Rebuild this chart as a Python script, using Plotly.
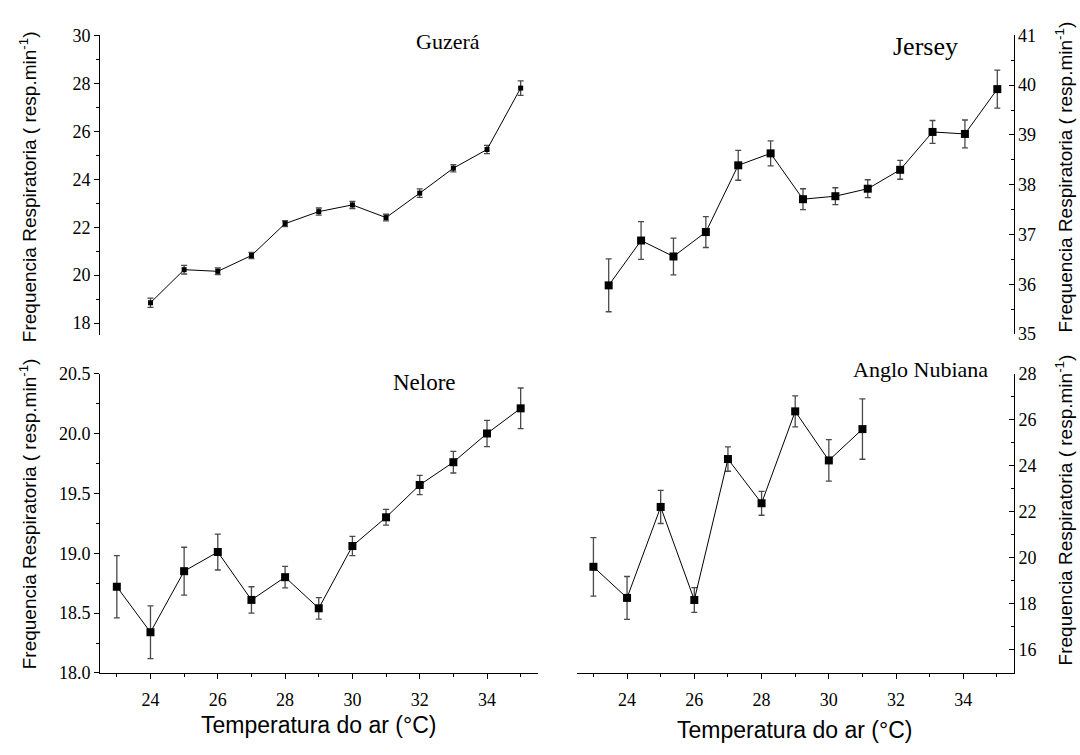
import plotly.graph_objects as go

# ---------------- data ----------------
guzera_temp = [24, 25, 26, 27, 28, 29, 30, 31, 32, 33, 34, 35]
guzera_fr = [18.85, 20.23, 20.16, 20.82, 22.15, 22.65, 22.93, 22.40, 23.42, 24.46, 25.24, 27.80]
guzera_err = [0.19, 0.18, 0.14, 0.13, 0.12, 0.15, 0.15, 0.14, 0.18, 0.15, 0.17, 0.30]

jersey_temp = [23, 24, 25, 26, 27, 28, 29, 30, 31, 32, 33, 34, 35]
jersey_fr = [35.98, 36.88, 36.56, 37.05, 38.39, 38.63, 37.71, 37.77, 37.92, 38.30, 39.06, 39.02, 39.92]
jersey_err = [0.53, 0.38, 0.37, 0.31, 0.30, 0.25, 0.21, 0.17, 0.18, 0.19, 0.23, 0.28, 0.38]

nelore_temp = [23, 24, 25, 26, 27, 28, 29, 30, 31, 32, 33, 34, 35]
nelore_fr = [18.72, 18.34, 18.85, 19.01, 18.61, 18.80, 18.54, 19.06, 19.30, 19.57, 19.76, 20.00, 20.21]
nelore_err = [0.26, 0.22, 0.20, 0.15, 0.11, 0.09, 0.09, 0.08, 0.066, 0.08, 0.09, 0.11, 0.17]

anglo_temp = [23, 24, 25, 26, 27, 28, 29, 30, 31]
anglo_fr = [19.61, 18.26, 22.21, 18.17, 24.29, 22.37, 26.36, 24.23, 25.59]
anglo_err = [1.27, 0.93, 0.72, 0.54, 0.53, 0.52, 0.67, 0.90, 1.31]

panel_names = ["Guzerá", "Jersey", "Nelore", "Anglo Nubiana"]
y_title = "Frequencia Respiratoria ( resp.min<sup>-1</sup>)"
x_title = "Temperatura do ar (°C)"

W, H = 1080, 755
SERIF = "Liberation Serif"
SANS = "Liberation Sans"


def px(x):
    return x / W


def py(y):
    return 1 - y / H


fig = go.Figure()


def add_series(x, y, err, xa, ya, msize):
    fig.add_trace(go.Scatter(
        x=x, y=y, xaxis=xa, yaxis=ya, mode="lines+markers",
        line=dict(color="black", width=1),
        marker=dict(symbol="square", size=msize, color="black"),
        error_y=dict(type="data", array=err, visible=True,
                     color="#4a4a4a", thickness=1.3, width=3),
        showlegend=False, cliponaxis=False,
    ))


add_series(guzera_temp, guzera_fr, guzera_err, "x", "y", 5)
add_series(jersey_temp, jersey_fr, jersey_err, "x2", "y2", 8)
add_series(nelore_temp, nelore_fr, nelore_err, "x3", "y3", 8)
add_series(anglo_temp, anglo_fr, anglo_err, "x4", "y4", 8)


def tickfont():
    return dict(family=SERIF, size=18, color="black")


xr = [22.5, 35.5]
dom_left = [px(100), px(537.5)]
dom_right_top = [px(592.5), px(1013.5)]
dom_right_bot = [px(576.6), px(1013.8)]
dom_top = [py(334), py(26)]
dom_top_r = [py(333), py(26)]
dom_bot = [py(681), py(373.5)]


def hidden_x(dom, anchor):
    return dict(range=xr, visible=False, showgrid=False, zeroline=False,
                domain=dom, anchor=anchor)


def bottom_x(dom, anchor):
    return dict(range=xr, domain=dom, anchor=anchor,
                showline=True, linecolor="black", linewidth=1,
                ticks="outside", ticklen=5, tickcolor="black", tickwidth=1,
                tickmode="linear", tick0=24, dtick=2, ticklabelstandoff=5,
                minor=dict(ticks="outside", ticklen=3, dtick=1, tick0=23,
                           tickcolor="black", showgrid=False),
                showgrid=False, zeroline=False, tickfont=tickfont())


def yax(rng, dtick, mdtick, side, dom, anchor, tick0, fmt=""):
    tk = "outside" if side == "left" else "inside"
    return dict(range=rng, domain=dom, anchor=anchor, side=side,
                showline=True, linecolor="black", linewidth=1,
                ticks=tk, ticklen=5, tickcolor="black", tickwidth=1,
                tickmode="linear", tick0=tick0, dtick=dtick, tickformat=fmt,
                minor=dict(ticks=tk, ticklen=3, dtick=mdtick, tick0=tick0,
                           tickcolor="black", showgrid=False),
                showgrid=False, zeroline=False, tickfont=tickfont())


fig.update_layout(
    width=W, height=H,
    margin=dict(l=0, r=0, t=0, b=0),
    paper_bgcolor="white", plot_bgcolor="white",
    font=dict(family=SERIF, color="black"),
    xaxis=hidden_x(dom_left, "y"),
    xaxis2=hidden_x(dom_right_top, "y2"),
    xaxis3=bottom_x(dom_left, "y3"),
    xaxis4=bottom_x(dom_right_bot, "y4"),
    yaxis=yax([17.5, 30], 2, 1, "left", dom_top, "x", 18),
    yaxis2=yax([35, 41], 1, 0.5, "right", dom_top_r, "x2", 35),
    yaxis3=yax([18, 20.5], 0.5, 0.25, "left", dom_bot, "x3", 18, ".1f"),
    yaxis4=yax([15, 28], 2, 1, "right", dom_bot, "x4", 16),
)

ann = []
# panel labels
for name, x, y, s in [(panel_names[0], 448, 32, 22), (panel_names[1], 925, 37, 26),
                      (panel_names[2], 424, 383, 23), (panel_names[3], 920, 369, 22)]:
    ann.append(dict(text=name, x=px(x), y=py(y), xref="paper", yref="paper",
                    showarrow=False, xanchor="center", yanchor="middle",
                    font=dict(family=SERIF, size=s, color="black")))
# y titles
for x, y in [(28, 182), (28, 518), (1064, 172), (1064, 514)]:
    ann.append(dict(text=y_title, x=px(x), y=py(y), xref="paper", yref="paper",
                    showarrow=False, xanchor="center", yanchor="middle", textangle=-90,
                    font=dict(family=SANS, size=19, color="black")))
# x titles
for x, y in [(318.75, 734), (794.5, 740)]:
    ann.append(dict(text=x_title, x=px(x), y=py(y), xref="paper", yref="paper",
                    showarrow=False, xanchor="center", yanchor="middle",
                    font=dict(family=SANS, size=23, color="black")))

fig.update_layout(annotations=ann)

fig.write_html("out.html")
